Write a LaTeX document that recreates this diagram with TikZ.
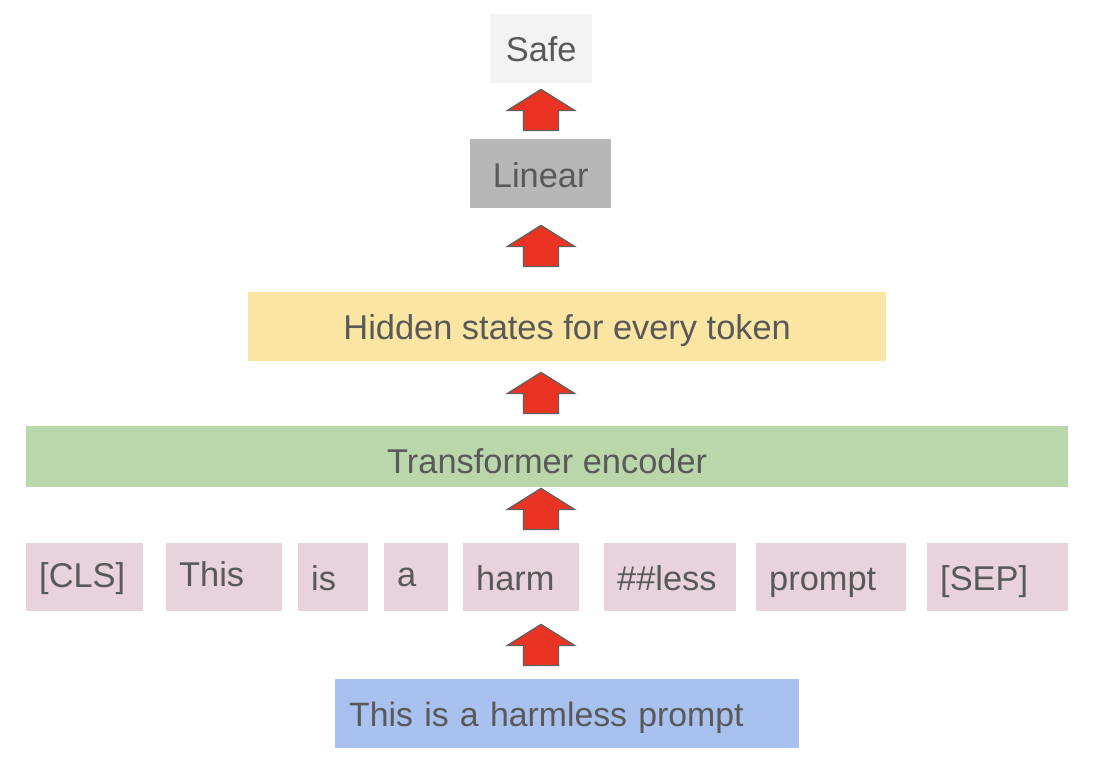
\documentclass[tikz,border=0pt]{standalone}
\usepackage{fontspec}
\setmainfont{Liberation Sans}
\usetikzlibrary{calc}
\definecolor{txt}{HTML}{595959}
\definecolor{csafe}{HTML}{F3F3F3}
\definecolor{clin}{HTML}{B7B7B7}
\definecolor{chid}{HTML}{FBE5A2}
\definecolor{cenc}{HTML}{B9D7AA}
\definecolor{ctok}{HTML}{E8D2DB}
\definecolor{cinp}{HTML}{A8C1EF}
\definecolor{cred}{HTML}{E93424}
\definecolor{cedge}{HTML}{5F5F5F}
\begin{document}
\begin{tikzpicture}[x=1pt,y=-1pt,
  box/.style={inner ysep=0pt, text height=24.6pt, text depth=0pt,
    font=\fontsize{34.4}{40}\selectfont, text=txt, anchor=north west},
  cbox/.style={box, inner xsep=0pt, align=center},
  tokbox/.style={box, fill=ctok, inner xsep=13pt, align=left, minimum height=68pt},
  arrowsty/.style={fill=cred, draw=cedge, line width=1.3pt, line join=miter},
  uparrow/.pic={\filldraw[arrowsty] (0,0) -- (33.5,21) -- (17.5,21) -- (17.5,41)
      -- (-17.5,41) -- (-17.5,21) -- (-33.5,21) -- cycle;}
  ]
\fill[white] (0,0) rectangle (1114,756);
\useasboundingbox (0,0) rectangle (1114,756);

\node[cbox, fill=csafe, minimum width=102pt, minimum height=69pt] (safe) at (490,14) {Safe};
\node[cbox, fill=clin, minimum width=141pt, minimum height=69pt] (lin) at (470,139) {\raisebox{-1pt}{Linear}};
\node[cbox, fill=chid, minimum width=638pt, minimum height=69pt] (hid) at (248,292) {Hidden states for every token};
\node[cbox, fill=cenc, minimum width=1042pt, minimum height=61pt] (enc) at (26,426) {\raisebox{-4pt}{Transformer encoder}};

\node[tokbox, text width=91pt] (t1) at (26,543) {\raisebox{2pt}{[CLS]}};
\node[tokbox, text width=90pt] (t2) at (166,543) {\raisebox{3pt}{This}};
\node[tokbox, text width=44pt] (t3) at (298,543) {\raisebox{-1pt}{is}};
\node[tokbox, text width=38pt] (t4) at (384,543) {\raisebox{3pt}{a}};
\node[tokbox, text width=90pt] (t5) at (463,543) {\raisebox{-1pt}{harm}};
\node[tokbox, text width=106pt] (t6) at (604,543) {\raisebox{-1pt}{\#\#less}};
\node[tokbox, text width=124pt] (t7) at (756,543) {\raisebox{-1pt}{prompt}};
\node[tokbox, text width=115pt] (t8) at (927,543) {\raisebox{-1pt}{[SEP]}};

\node[box, fill=cinp, inner xsep=14pt, align=left, text width=436pt, minimum height=69pt,
  font=\fontsize{33.8}{40}\selectfont] (inp) at (335,679) {This is a harmless prompt};

\coordinate (ax) at (541,0);
\pic at ($(ax |- safe.south)+(0,6)$) {uparrow};
\pic at ($(ax |- lin.south)+(0,17)$) {uparrow};
\pic at ($(ax |- hid.south)+(0,11)$) {uparrow};
\pic at ($(ax |- enc.south)+(0,1)$) {uparrow};
\pic at ($(ax |- t5.south)+(0,13)$) {uparrow};
\end{tikzpicture}
\end{document}
